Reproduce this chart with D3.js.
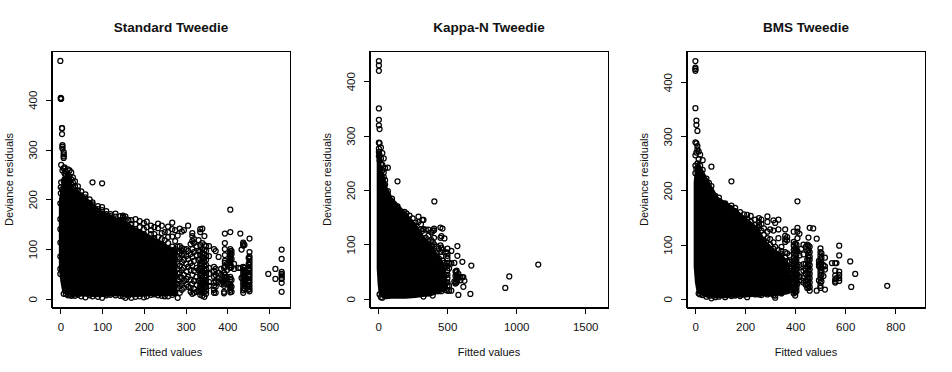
<!DOCTYPE html>
<html>
<head>
<meta charset="utf-8">
<script src="https://cdn.jsdelivr.net/npm/d3@7"></script>
<style>
  html, body { margin: 0; background: #fff; }
  svg { display: block; }
  text { font-family: "Liberation Sans", Arial, sans-serif; fill: #111; }
  .axis text { font-size: 11.5px; }
  .axis path, .axis line { stroke: #000; shape-rendering: crispEdges; }
  .frame { fill: none; stroke: #000; shape-rendering: crispEdges; }
  .dense { fill: #000; stroke: #000; stroke-width: 3; stroke-linejoin: round; }
  .pt { fill: none; stroke: #000; stroke-width: 1.25; }
  .title { font-size: 13.5px; font-weight: bold; text-anchor: middle; }
  .label { font-size: 11px; text-anchor: middle; }
</style>
</head>
<body>
<script>
var titles = ['Standard Tweedie', 'Kappa-N Tweedie', 'BMS Tweedie'];
var xLabel = 'Fitted values';
var yLabel = 'Deviance residuals';

var xTicks = [[0, 100, 200, 300, 400, 500], [0, 500, 1000, 1500], [0, 200, 400, 600, 800]];
var yTicks = [[0, 100, 200, 300, 400], [0, 100, 200, 300, 400], [0, 100, 200, 300, 400]];
var xDomains = [[-21.2, 551.2], [-63, 1669], [-34.6, 921]];
var yDomains = [[-17.5, 497], [-16, 454.6], [-16, 456.6]];

// the solid black part of each panel: fitted value, lowest and highest residual
var standardDense = [[0, 60, 190], [3, 38, 218], [8, 14, 238], [15, 10, 244], [31, 8, 222], [63, 7, 200],
  [95, 6, 176], [135, 8, 160], [151, 7, 156], [175, 6, 142], [215, 8, 125], [255, 8, 105], [277, 9, 98]];
var kappaDense = [[0, 56, 270], [7, 26, 262], [14, 9, 245], [34, 4, 228], [58, 2, 204], [94, 3, 185],
  [147, 3, 170], [200, 3, 155], [268, 4, 136], [321, 6, 115], [376, 7, 98], [449, 14, 72], [485, 20, 48], [495, 26, 20]];
var bmsDense = [[0, 60, 215], [5, 30, 240], [12, 12, 250], [35, 7, 229], [61, 3, 208], [88, 4, 186],
  [128, 4, 175], [161, 5, 163], [201, 5, 148], [248, 7, 130], [274, 7, 108], [307, 8, 92], [347, 9, 80], [372, 12, 62], [380, 26, 28]];

// open circles outside the solid part, one entry per fitted value: [x, residuals]
var standardPoints = [
  [0, [478, 192, 160, 140, 113, 85, 60, 50]], [1, [404, 402, 212, 224]], [2, [402, 269, 234]], [4, [343, 343, 331, 220, 200]], [5, [309, 306, 302, 258]],
  [8, [295, 290, 286, 283, 262, 236, 10]], [10, [264, 252, 240, 28]], [13, [256, 248, 240, 232, 10]], [18, [260, 250, 243, 236, 7]], [22, [258, 246, 238, 226, 8]], [26, [254, 240, 230, 6]],
  [30, [244, 234, 224, 8]], [35, [236, 226, 218, 6]], [42, [226, 218, 208, 8]], [50, [216, 208, 198, 5]], [60, [210, 204, 192, 3]], [70, [200, 192, 184, 7]],
  [77, [234, 194, 190, 180, 5]], [90, [186, 180, 170, 4]], [100, [232, 184, 178, 168, 2]], [110, [176, 170, 160, 7]], [120, [170, 166, 156, 8]], [132, [171, 165, 152, 7]],
  [143, [166, 158, 148, 6]], [150, [167, 164, 158, 150, 5]], [156, [165, 160, 148, 138, 2]], [163, [158, 146, 136, 6]], [170, [158, 150, 142, 130, 2]], [180, [160, 150, 140, 128, 4]], [190, [156, 144, 132, 126, 116, 5]],
  [200, [152, 140, 130, 120, 110, 3]], [207, [155, 144, 124, 114, 5]], [217, [147, 138, 130, 118, 106, 8]], [225, [144, 130, 122, 110, 100, 9]], [234, [151, 142, 124, 112, 98, 7]],
  [243, [147, 132, 120, 108, 94, 6]], [250, [134, 118, 104, 92, 5]], [258, [145, 134, 124, 112, 100, 5]], [268, [153, 140, 125, 105, 92, 8]], [275, [138, 116, 100, 12]],
  [281, [127, 105, 95, 84, 70, 60, 50, 38, 30, 22, 2]], [286, [141, 106, 92, 80, 66, 52, 44, 26, 12]], [291, [135, 102, 96, 88, 74, 58, 42, 30, 18]],
  [296, [138, 100, 90, 78, 62, 48, 36, 22]], [302, [100, 86, 70, 55, 40, 28]], [306, [147, 96, 80, 64, 44, 24]], [312, [110, 90, 72, 58, 38, 22, 14]],
  [316, [132, 126, 116, 100, 84, 66, 48, 30, 10]], [320, [120, 112, 94, 76, 56, 36, 20, 12]], [326, [106, 88, 62, 44, 28, 14]],
  [331, [118, 96, 78, 58, 36, 16]], [335, [140, 134, 108, 96, 88, 80, 72, 66, 60, 52, 46, 38, 32, 26, 20, 14, 8]],
  [340, [141, 112, 100, 92, 84, 76, 70, 62, 56, 48, 42, 36, 30, 24, 18, 12, 6]], [345, [126, 108, 98, 90, 82, 74, 66, 58, 52, 44, 38, 32, 26, 20, 14, 4]],
  [349, [106, 96, 86, 78, 68, 60, 52, 46, 38, 30, 24, 16, 10]], [356, [106, 86, 62, 50, 34, 26]], [368, [100, 64, 56, 44, 32, 26, 18, 12]],
  [372, [96, 60, 48, 36, 24, 12]], [379, [84, 52, 42, 34]], [385, [60, 48, 38, 30]], [392, [62, 52, 44, 36, 30, 26, 14, 11]],
  [394, [131, 112, 100, 88, 76, 72, 64, 48, 42, 36]], [399, [70, 58, 44, 30]],
  [407, [179, 134, 100, 96, 92, 88, 84, 80, 76, 72, 68, 62, 44, 40, 30, 26, 22, 18, 13]], [410, [96, 90, 80, 64, 38, 24, 14]], [416, [70, 60]],
  [426, [62]], [431, [131, 62]], [434, [99, 42]], [438, [113, 110, 107, 64, 58, 52, 46, 40, 34, 28, 22, 17, 12]], [441, [108, 62, 56, 50, 44, 38, 32, 26, 20]],
  [453, [121, 94, 85, 80, 74, 68, 62, 56, 50, 44, 38, 32, 26, 20, 15]], [451, [82, 70, 60, 48, 36, 24, 18]],
  [498, [50]], [515, [60, 40]], [530, [99, 80, 54, 50, 47, 42, 40, 32, 14]]
];
var kappaPoints = [
  [5, [437, 429, 419, 350, 329, 319, 287, 276, 270, 262]], [10, [312, 286, 264, 254, 8]], [20, [278, 258, 248, 3]], [30, [268, 246, 236, 2]], [40, [258, 232, 224]], [50, [240, 218, 210]],
  [70, [241, 198, 192]], [100, [184, 178]], [140, [216, 170]], [170, [160, 152]], [190, [160, 150]], [205, [157, 145]], [227, [153, 143, 136]], [250, [148, 134]], [270, [140, 128]], [292, [151, 141, 120]], [310, [137, 128, 112]], [320, [145, 125, 108]],
  [328, [145, 128, 100, 4]], [345, [127, 112, 98]], [364, [127, 116, 106, 92]], [385, [122, 108, 98, 84]], [395, [125, 104, 88, 6]], [405, [129, 126, 112, 100, 80]],
  [425, [96, 84, 70, 14]], [440, [92, 74, 60, 14]], [451, [131, 112, 98, 86, 66]], [458, [115, 94, 78, 60, 14]], [466, [129, 90, 70, 52, 18]], [480, [111, 66, 56, 42, 20]], [490, [86, 60, 44, 30, 16]],
  [502, [92, 84, 79, 74, 66, 60, 52, 44, 38, 30, 24, 15]], [514, [66, 56, 24, 15]], [530, [88, 65, 15]], [552, [66, 32]], [560, [50, 42, 30, 28]],
  [568, [52, 49, 44, 36, 30]], [574, [97, 79, 40, 34]], [581, [40, 7, 46]], [596, [40, 34]], [610, [68, 40]], [617, [40, 22]], [625, [33]],
  [668, [9]], [675, [61]], [921, [20]], [950, [41]], [1160, [63]], [407, [179]]
];
var bmsPoints = [
  [1, [439, 427, 424, 421, 352, 289, 265, 246, 232]], [5, [329, 321, 287, 270, 240]], [9, [310, 282, 276, 250]], [14, [272, 258, 240, 10]], [20, [266, 246, 236, 8]], [30, [256, 238, 226, 7]],
  [45, [222, 214, 4]], [55, [214, 204]], [65, [244, 208, 198, 1]], [80, [190, 182, 3]], [95, [187, 180, 4]], [120, [176, 168, 3]], [145, [217, 172, 167, 5]], [160, [168, 162, 6]], [180, [160, 150, 5]],
  [195, [156, 146]], [208, [155, 148, 138, 3]], [222, [153, 142, 130]], [240, [146, 136, 122, 8]], [255, [149, 142, 136, 130, 112, 8]], [265, [146, 138, 126, 104, 7]], [275, [130, 118, 108]], [289, [152, 142, 124, 112, 96, 8]],
  [300, [128, 110, 100, 88, 10]], [313, [145, 126, 104, 92, 80, 7]], [320, [140, 96, 84, 2, 6]], [333, [146, 128, 112, 90, 76, 64]], [345, [96, 88, 82, 70, 10]], [360, [128, 116, 110, 105, 86, 76, 60, 14]],
  [368, [114, 108, 84, 70, 60, 14]], [378, [80, 68, 56, 46, 36, 22, 16]], [388, [64, 52, 40, 30, 18]],
  [394, [124, 105, 98, 90, 84, 76, 70, 64, 58, 52, 46, 40, 34, 28, 22, 16, 10]], [400, [102, 94, 88, 80, 72, 66, 60, 54, 48, 42, 36, 30, 24, 18, 12, 6]],
  [405, [100, 90, 82, 74, 68, 62, 54, 46, 38, 32, 26, 20, 14]], [409, [180, 131, 124, 112, 88, 60, 44, 28]], [417, [120, 80, 62, 40]], [424, [92, 50, 34]], [433, [100, 82, 64, 52, 38, 30]],
  [442, [96, 64, 56, 46, 34, 26]], [448, [100, 88, 72, 60, 48, 36, 28, 20]], [453, [113, 98, 90, 84, 76, 70, 64, 58, 52, 46, 40, 34, 26, 20]],
  [458, [131, 96, 86, 78, 72, 62, 54, 46, 38, 30, 22, 15]], [472, [130]], [486, [111, 15]], [495, [70, 64, 60, 34]],
  [501, [93, 86, 80, 74, 68, 62, 56, 50, 44, 38, 30, 24, 20]], [505, [84, 76, 66, 58, 52, 44, 32]], [513, [62, 42]], [519, [76, 60, 54, 17]],
  [547, [66]], [560, [66, 52, 43, 36, 32, 30]], [565, [66, 38]], [576, [98, 80, 50, 44, 38, 33]], [620, [69]], [624, [22]], [640, [46]], [768, [24]]
];

var denseByPanel = [standardDense, kappaDense, bmsDense];
var pointsByPanel = [standardPoints, kappaPoints, bmsPoints];

var width = 952;
var height = 372;
var frameTop = 51.5;
var frameBottom = 307.5;
var frameLefts = [51.5, 369.5, 686.5];
var frameWidth = 239;

var svg = d3.select('body').append('svg').attr('width', width).attr('height', height);

function drawPanel(i) {
  var left = frameLefts[i];
  var xScale = d3.scaleLinear().domain(xDomains[i]).range([left, left + frameWidth]);
  var yScale = d3.scaleLinear().domain(yDomains[i]).range([frameBottom, frameTop]);
  var cx = left + frameWidth / 2;

  var area = d3.area()
    .x(d => xScale(d[0]))
    .y0(d => yScale(d[1]))
    .y1(d => yScale(d[2]));

  svg.append('path')
    .datum(denseByPanel[i])
    .attr('class', 'dense')
    .attr('d', area);

  var flat = pointsByPanel[i].flatMap(c => c[1].map(y => ({ x: c[0], y: y })));
  svg.append('g')
    .selectAll('circle')
    .data(flat)
    .join('circle')
    .attr('class', 'pt')
    .attr('cx', d => xScale(d.x))
    .attr('cy', d => yScale(d.y))
    .attr('r', 2.5);

  svg.append('rect')
    .attr('class', 'frame')
    .attr('x', left)
    .attr('y', frameTop)
    .attr('width', frameWidth)
    .attr('height', frameBottom - frameTop);

  var xAxis = d3.axisBottom(xScale)
    .tickValues(xTicks[i])
    .tickFormat(d3.format('d'))
    .tickSizeInner(6)
    .tickSizeOuter(0)
    .tickPadding(9);
  svg.append('g')
    .attr('class', 'axis')
    .attr('transform', `translate(0, ${frameBottom})`)
    .call(xAxis);

  var yAxis = d3.axisLeft(yScale)
    .tickValues(yTicks[i])
    .tickFormat(d3.format('d'))
    .tickSizeInner(6)
    .tickSizeOuter(0);
  var yGroup = svg.append('g')
    .attr('class', 'axis')
    .attr('transform', `translate(${left}, 0)`)
    .call(yAxis);
  yGroup.selectAll('text')
    .attr('text-anchor', 'middle')
    .attr('dy', null)
    .attr('x', null)
    .attr('transform', 'translate(-14.5, 0) rotate(-90)');

  svg.append('text').attr('class', 'title').attr('x', cx).attr('y', 32).text(titles[i]);
  svg.append('text').attr('class', 'label').attr('x', cx).attr('y', 356).text(xLabel);
  svg.append('text')
    .attr('class', 'label')
    .attr('transform', `translate(${left - 39}, ${(frameTop + frameBottom) / 2}) rotate(-90)`)
    .text(yLabel);
}

titles.forEach((t, i) => drawPanel(i));
</script>
</body>
</html>
